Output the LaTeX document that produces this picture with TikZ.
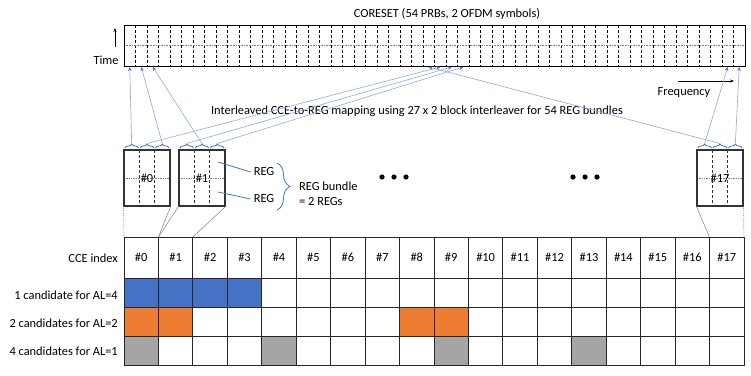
\documentclass[tikz,border=0pt]{standalone}
\usepackage{fontspec}
\setmainfont{Carlito}
\usepackage{tikz}
\usetikzlibrary{arrows.meta, calc, decorations.pathreplacing}

\definecolor{cceblue}{HTML}{4472C4}
\definecolor{cceorange}{HTML}{ED7D31}
\definecolor{ccegray}{HTML}{A5A5A5}
\definecolor{mapblue}{HTML}{8FAADC}

\begin{document}
\begin{tikzpicture}[x=1pt, y=-1pt,
	every node/.style={font=\fontsize{12.4}{15}\selectfont, inner sep=0pt},
	cell/.style={draw=black!85, line width=0.8pt, outer sep=0pt, minimum width=34.44pt, minimum height=29pt},
	regbox/.style={draw=black!80, line width=1.1pt, minimum width=46pt, minimum height=56pt,
		path picture={
			\foreach \f in {0.3333,0.6667}
				\draw[densely dashed, line width=0.7pt] ($(path picture bounding box.north west)!\f!(path picture bounding box.north east)$) -- ($(path picture bounding box.south west)!\f!(path picture bounding box.south east)$);
			\draw[densely dotted, gray, line width=0.7pt] (path picture bounding box.west) -- (path picture bounding box.east);
		}},
	regbrace/.style={decorate, decoration={brace, amplitude=4pt}, draw=cceblue, line width=0.8pt},
	maparrow/.style={draw=mapblue, line width=0.6pt, -{Stealth[length=4pt, width=3.5pt, color=cceblue]}},
	>={Stealth[length=4pt, width=3pt]}]
	
	\useasboundingbox (0,0) rectangle (751,375);
	
	% CORESET
	\node (title) at (447,14) {CORESET (54 PRBs, 2 OFDM symbols)};
	\foreach \k in {1,...,53}
		\draw[densely dashed, line width=0.6pt] (124+\k*11.5,25) -- (124+\k*11.5,66);
	\draw[densely dotted, gray, line width=0.6pt] (124,45.5) -- (745,45.5);
	\node[draw, line width=1pt, minimum width=621pt, minimum height=41pt, anchor=north west] (coreset) at (124,25) {};
	\foreach \k in {0,...,53}
		\coordinate (prb\k) at (129.75+\k*11.5,67);
	
	\node (time) at (106,60) {Time};
	\coordinate (tbot) at (115,47);
	\coordinate (ttop) at (115,28);
	\draw[->, line width=0.6pt] (tbot) -- (ttop);
	
	\node (freq) at (684,93) {Frequency};
	\coordinate (fleft) at (678,81);
	\coordinate (fright) at (734,81);
	\draw[->, line width=0.6pt] (fleft) -- (fright);
	
	\node (interleaver) at (417,111) {Interleaved CCE-to-REG mapping using 27 x 2 block interleaver for 54 REG bundles};
	
	% CCEs as 3 REG bundles
	\node[regbox] (box0) at (147,178) {\#0};
	\node[regbox] (box1) at (202,178) {\#1};
	\node[regbox] (box17) at (720,178) {\#17};
	
	\foreach \b/\x in {0/124, 1/179, 17/697}
		\foreach \j in {0,1,2} {
			\draw[regbrace] (\x+\j*15.33+0.8,148) -- (\x+\j*15.33+14.5,148);
			\coordinate (bt\b-\j) at (\x+\j*15.33+7.67,143.5);
		}
	
	% Interleaver mapping
	\foreach \s/\t in {0-0/0, 0-1/27, 0-2/1, 1-0/28, 1-1/2, 1-2/29, 17-0/52, 17-1/26, 17-2/53}
		\draw[maparrow] (bt\s) -- (prb\t);
	
	% REG bundle legend
	\node (reg1) at (264,172) {REG};
	\node (reg2) at (264,199) {REG};
	\coordinate (reg1from) at (218,162);
	\coordinate (reg2from) at (218,192);
	\draw[cceblue, line width=0.8pt] (reg1from) -- ([xshift=-3pt]reg1.west);
	\draw[cceblue, line width=0.8pt] (reg2from) -- ([xshift=-3pt]reg2.west);
	
	\coordinate (bundletop) at (277,163);
	\coordinate (bundlebot) at (277,210);
	\draw[decorate, decoration={brace, amplitude=13pt}, cceblue, line width=0.8pt] (bundletop) -- (bundlebot);
	\node[align=left, anchor=west] (bundle) at (299,194) {REG bundle\\= 2 REGs};
	
	\foreach \x in {382,394,406,573,585,597}
		\fill (\x,177) circle (2.6pt);
	
	% CCE table
	\foreach \k in {0,...,17} {
		\node[cell, minimum height=41pt] (idx\k) at (141.22+\k*34.44,257.5) {\#\k};
		\node[cell] (al4-\k) at (141.22+\k*34.44,292.5) {};
		\node[cell] (al2-\k) at (141.22+\k*34.44,321.5) {};
		\node[cell] (al1-\k) at (141.22+\k*34.44,351) {};
	}
	\foreach \k in {0,...,3}
		\filldraw[fill=cceblue, draw=black!85, line width=0.8pt] (al4-\k.north west) rectangle (al4-\k.south east);
	\foreach \k in {0,1,8,9}
		\filldraw[fill=cceorange, draw=black!85, line width=0.8pt] (al2-\k.north west) rectangle (al2-\k.south east);
	\foreach \k in {0,4,9,13}
		\filldraw[fill=ccegray, draw=black!85, line width=0.8pt] (al1-\k.north west) rectangle (al1-\k.south east);
	
	\node[anchor=east] (lidx) at (118,258) {CCE index};
	\node[anchor=east] (lal4) at (118,295) {1 candidate for AL=4};
	\node[anchor=east] (lal2) at (118,323) {2 candidates for AL=2};
	\node[anchor=east] (lal1) at (118,351) {4 candidates for AL=1};
	
	% from CCE boxes down to CCE index
	\draw[gray, densely dotted, line width=0.7pt] (box0.south west) -- (idx0.north west);
	\draw[gray, line width=0.5pt] (box0.south east) -- (idx1.north west);
	\draw[gray, line width=0.5pt] (box1.south west) -- (idx1.north west);
	\draw[gray, line width=0.5pt] (box1.south east) -- (idx2.north west);
	\draw[gray, line width=0.5pt] (box17.south west) -- (idx17.north west);
	\draw[gray, densely dotted, line width=0.7pt] (box17.south east) -- (idx17.north east);
	
\end{tikzpicture}
\end{document}
